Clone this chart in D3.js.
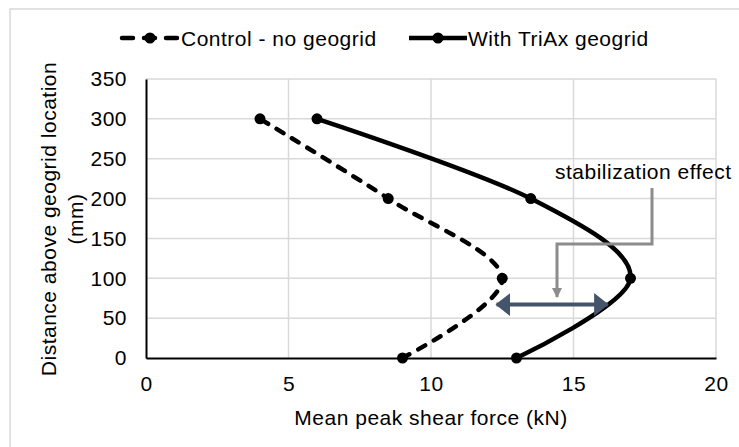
<!DOCTYPE html>
<html>
<head>
<meta charset="utf-8">
<script src="https://cdn.jsdelivr.net/npm/d3@7"></script>
<style>
  body { margin: 0; background: #fff; }
  text { font-family: Arial, "Liberation Sans", sans-serif; fill: #000; letter-spacing: 0.5px; }
</style>
</head>
<body>
<svg width="739" height="447"></svg>
<script>
// data
var depths = [0, 100, 200, 300];          // mm above geogrid
var control = [9, 12.5, 8.5, 4];           // kN, no geogrid
var triax = [13, 17, 13.5, 6];             // kN, with TriAx
var xTicks = [0, 5, 10, 15, 20];
var yTicks = [0, 50, 100, 150, 200, 250, 300, 350];
var seriesNames = ["Control - no geogrid", "With TriAx geogrid"];
// annotation arrow (kN) at depth
var effect = { from: 12.3, to: 16.2, depth: 67, label: "stabilization effect" };

var svg = d3.select("svg"),
    width = +svg.attr("width"),
    height = +svg.attr("height");

var fs = 21;
var x = d3.scaleLinear().domain([0, 20]).range([146, 716]);
var y = d3.scaleLinear().domain([0, 350]).range([358, 79]);

// outer chart border (only top/left visible in crop)
svg.append("rect")
  .attr("x", 10).attr("y", 9)
  .attr("width", 800).attr("height", 800)
  .attr("fill", "none").attr("stroke", "#d9d9d9").attr("stroke-width", 1.5);

var defs = svg.append("defs");
defs.append("marker").attr("id", "blueHead")
  .attr("viewBox", "0 0 14 22").attr("refX", 13).attr("refY", 11)
  .attr("markerUnits", "userSpaceOnUse")
  .attr("markerWidth", 15).attr("markerHeight", 23).attr("orient", "auto-start-reverse")
  .append("path").attr("d", "M0,0L14,11L0,22Z").attr("fill", "#44546a");
defs.append("marker").attr("id", "grayHead")
  .attr("viewBox", "0 0 10 10").attr("refX", 9).attr("refY", 5)
  .attr("markerUnits", "userSpaceOnUse")
  .attr("markerWidth", 10).attr("markerHeight", 10).attr("orient", "auto")
  .append("path").attr("d", "M0,0L10,5L0,10Z").attr("fill", "#8c8c8c");

// gridlines
var grid = svg.append("g");
grid.selectAll(".hg").data(yTicks.slice(1)).enter().append("line")
  .attr("x1", x(0)).attr("x2", x(20))
  .attr("y1", d => y(d)).attr("y2", d => y(d))
  .attr("stroke", "#d9d9d9").attr("stroke-width", 1.5);
grid.selectAll(".vg").data(xTicks.slice(1)).enter().append("line")
  .attr("x1", d => x(d)).attr("x2", d => x(d))
  .attr("y1", y(0)).attr("y2", y(350))
  .attr("stroke", "#d9d9d9").attr("stroke-width", 1.5);

// axes
var xAxis = svg.append("g").attr("transform", "translate(0," + y(0) + ")")
  .call(d3.axisBottom(x).tickValues(xTicks).tickSize(0).tickPadding(18));
var yAxis = svg.append("g").attr("transform", "translate(" + x(0) + ",0)")
  .call(d3.axisLeft(y).tickValues(yTicks).tickSize(0).tickPadding(19));
[xAxis, yAxis].forEach(function(a) {
  a.select(".domain").attr("stroke", "#000").attr("stroke-width", 2);
  a.selectAll("text").attr("font-size", fs).attr("font-family", "Arial, 'Liberation Sans', sans-serif").attr("fill", "#000");
});

svg.append("text").attr("x", 431).attr("y", 425)
  .attr("text-anchor", "middle").attr("font-size", fs)
  .text("Mean peak shear force (kN)");
var yt = svg.append("text").attr("transform", "translate(56,219) rotate(-90)")
  .attr("text-anchor", "middle").attr("font-size", fs);
yt.append("tspan").attr("x", 0).attr("dy", 0).text("Distance above geogrid location");
yt.append("tspan").attr("x", 0).attr("dy", 27).text("(mm)");

// series
var line = d3.line().x(d => x(d[0])).y(d => y(d[1])).curve(d3.curveCatmullRom.alpha(0));
var series = [
  { vals: control, dash: "8,10" },
  { vals: triax, dash: null }
];
series.forEach(function(s) {
  var pts = s.vals.map((v, i) => [v, depths[i]]);
  svg.append("path").datum(pts).attr("d", line)
    .attr("fill", "none").attr("stroke", "#000").attr("stroke-width", 4.5)
    .attr("stroke-linecap", s.dash ? "round" : "butt")
    .attr("stroke-dasharray", s.dash);
  svg.selectAll(null).data(pts).enter().append("circle")
    .attr("cx", d => x(d[0])).attr("cy", d => y(d[1])).attr("r", 5.5).attr("fill", "#000");
});

// stabilization effect double arrow
svg.append("line")
  .attr("x1", x(effect.from)).attr("x2", x(effect.to))
  .attr("y1", y(effect.depth)).attr("y2", y(effect.depth))
  .attr("stroke", "#44546a").attr("stroke-width", 4)
  .attr("marker-start", "url(#blueHead)").attr("marker-end", "url(#blueHead)");

// callout elbow
svg.append("path")
  .attr("d", "M652,188V244H557V297")
  .attr("fill", "none").attr("stroke", "#8c8c8c").attr("stroke-width", 3)
  .attr("marker-end", "url(#grayHead)");
svg.append("text").attr("x", 555).attr("y", 179).attr("font-size", fs)
  .text(effect.label);

// legend
var legend = svg.append("g");
var legX = [[120, 180], [409, 467]];
series.forEach(function(s, i) {
  var g = legend.append("g");
  g.append("line").attr("x1", legX[i][0]).attr("x2", legX[i][1])
    .attr("y1", 38).attr("y2", 38)
    .attr("stroke", "#000").attr("stroke-width", 4.5)
    .attr("stroke-linecap", s.dash ? "round" : "butt")
    .attr("stroke-dasharray", s.dash ? "11,11" : null)
    .attr("stroke-dashoffset", s.dash ? -2 : null);
  g.append("circle").attr("cx", (legX[i][0] + legX[i][1]) / 2).attr("cy", 38).attr("r", 5.5).attr("fill", "#000");
  g.append("text").attr("x", legX[i][1] + 1).attr("y", 45.5).attr("font-size", fs).text(seriesNames[i]);
});
</script>
</body>
</html>
